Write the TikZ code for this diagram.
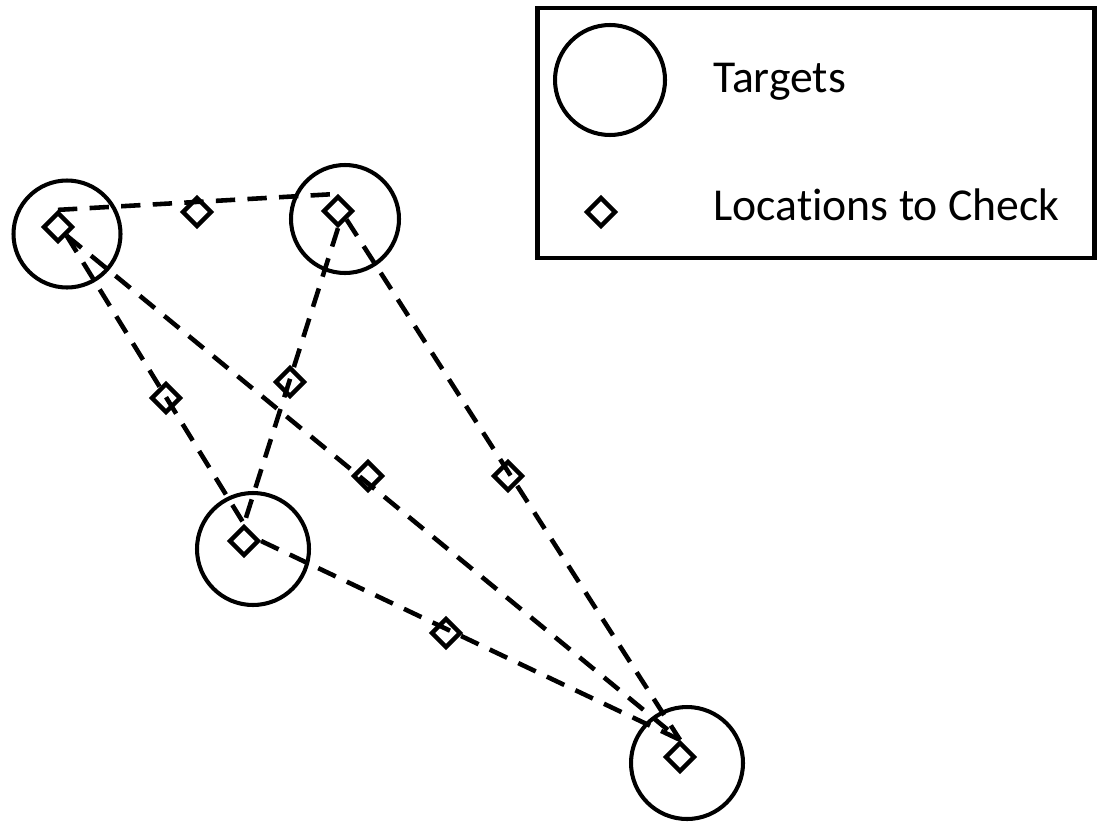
\documentclass[tikz,border=0pt]{standalone}
\usepackage{fontspec}
\setmainfont[Ligatures=NoCommon]{Carlito}
\usetikzlibrary{shapes.geometric}
\begin{document}
\begin{tikzpicture}[x=0.02cm,y=-0.02cm,
  target/.style={circle,draw,line width=2.3pt,inner sep=0pt},
  loc/.style={diamond,draw,line width=2.5pt,inner sep=0pt,minimum width=17pt,minimum height=17pt},
  link/.style={line width=2.6pt,dash pattern=on 11pt off 7pt},
  lbl/.style={anchor=west,font=\fontsize{26}{31}\selectfont,inner sep=0pt}]
\useasboundingbox (0,0) rectangle (1097,821);
% targets
\node[target,minimum size=107*0.02cm] (tA) at (67,234) {};
\node[target,minimum size=108*0.02cm] (tB) at (345,219) {};
\node[target,minimum size=112*0.02cm] (tC) at (253,549) {};
\node[target,minimum size=112*0.02cm] (tD) at (687,763) {};
% locations inside targets
\node[loc] (dA) at (58,227) {};
\node[loc] (dB) at (338,211) {};
\node[loc] (dC) at (244,541) {};
\node[loc] (dD) at (680,757) {};
% connectors
\draw[link] (dA.north) -- (dB.north);
\draw[link] (dA.south east) -- (dC.north);
\draw[link] (dA.south east) -- (dD.north);
\draw[link] (dB.south) -- (dC.north);
\draw[link] (dB.south east) -- (dD.north);
\draw[link] (dC.east) -- (dD.north);
% midpoints
\node[loc] (mAB) at (197,212) {};
\node[loc] (mAC) at (166,398) {};
\node[loc] (mBC) at (290,382) {};
\node[loc] (mAD) at (368,476) {};
\node[loc] (mBD) at (508,476) {};
\node[loc] (mCD) at (446,633) {};
% legend
\node[draw,line width=2.4pt,minimum width=557*0.02cm,minimum height=250*0.02cm,inner sep=0pt] (legend) at (816,133) {};
\node[target,minimum size=110*0.02cm] (lgT) at (610,80) {};
\node[loc] (lgD) at (601,212) {};
\node[lbl] (lgTt) at (713,82) {Targets};
\node[lbl] (lgDt) at (713,205) {Locations to Check};
\end{tikzpicture}
\end{document}
